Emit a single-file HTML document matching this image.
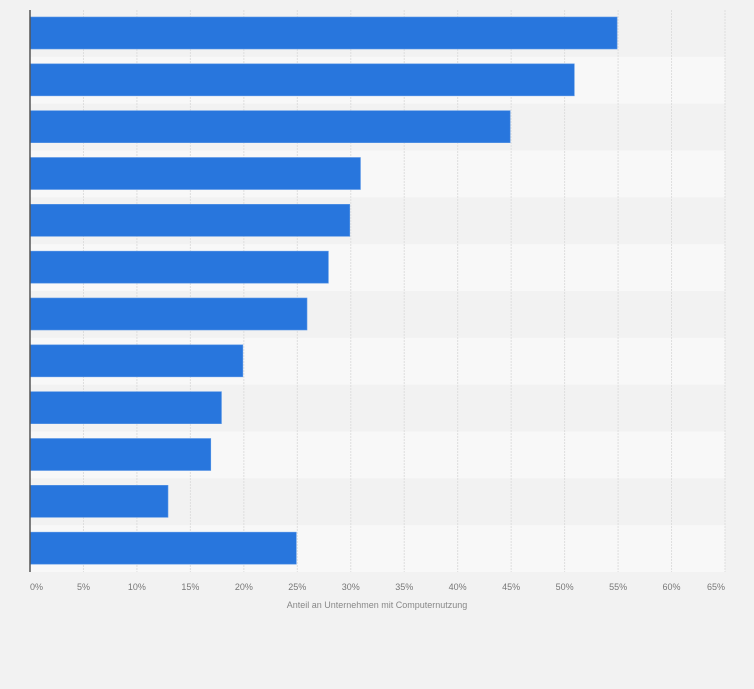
<!DOCTYPE html>
<html><head><meta charset="utf-8"><style>
html,body{margin:0;padding:0;background:#f2f2f2;}
svg{display:block;font-family:"Liberation Sans",sans-serif;}
</style></head><body>
<svg width="754" height="689" viewBox="0 0 754 689">
<rect width="754" height="689" fill="#f2f2f2"/>
<g id="bands"></g>
<g id="grid"></g>
<g id="bars"></g>
<line x1="30" y1="10" x2="30" y2="572" stroke="#555" stroke-width="1.5"/>
<g font-size="9" fill="#777" id="ticks"></g>
<text x="377" y="608" font-size="9" fill="#888" text-anchor="middle">Anteil an Unternehmen mit Computernutzung</text>
</svg>
<script>
var ns="http://www.w3.org/2000/svg";
function el(p,t,a,txt){var e=document.createElementNS(ns,t);for(var k in a)e.setAttribute(k,a[k]);if(txt)e.textContent=txt;document.getElementById(p).appendChild(e);}
var vals=[55,51,45,31,30,28,26,20,18,17,13,25];
var h=562/12, s=695/65;
for(var i=0;i<12;i++){
 el("bands","rect",{x:30,y:10+i*h,width:695,height:h,fill:i%2?"#f8f8f8":"#f2f2f2"});
 el("bars","rect",{x:30,y:17+i*h,width:vals[i]*s-1,height:32,fill:"#2876dd",stroke:"#5a97e6","stroke-width":0.6});
}
for(var j=1;j<=13;j++){var x=30+j*5*s;
 el("grid","line",{x1:x,y1:10,x2:x,y2:572,stroke:"#dedede","stroke-width":1,"stroke-dasharray":"2,1"});}
for(var j=0;j<=13;j++){var x=30+j*5*s;var a="middle";if(j==0)a="start";if(j==13)a="end";
 el("ticks","text",{x:x,y:590,"text-anchor":a},(j*5)+"%");}
</script>
</body></html>
